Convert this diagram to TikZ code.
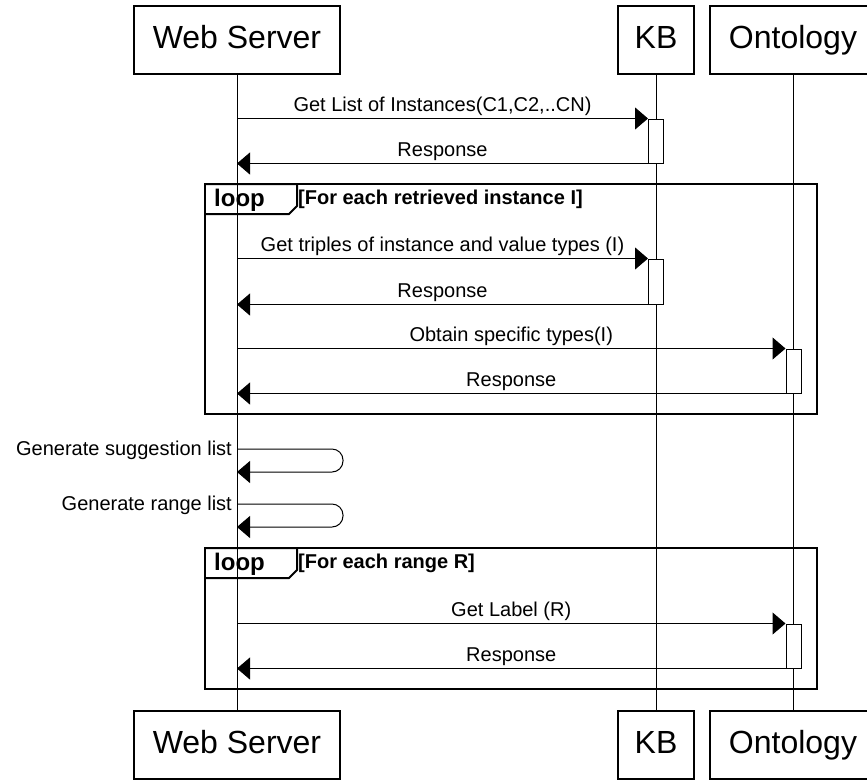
\documentclass[tikz,border=0pt]{standalone}
\usepackage{fontspec}
\setmainfont{Liberation Sans}
\usetikzlibrary{arrows.meta}

\begin{document}
\begin{tikzpicture}[x=1pt, y=-1pt,
        actor/.style={draw, line width=1.2pt, fill=white, minimum height=68pt,
            text height=23pt, text depth=6pt, font=\fontsize{32}{38}\selectfont},
        lifeline/.style={line width=1pt},
        actbar/.style={draw, line width=1pt, fill=white, minimum width=15pt, inner sep=0pt},
        msg/.style={line width=1pt, -{Triangle[length=13pt, width=22pt]}},
        txt/.style={font=\fontsize{20}{24}\selectfont, inner sep=2pt},
        loopbox/.style={draw, line width=2pt},
        looptag/.style={font=\bfseries\fontsize{24}{28}\selectfont, inner sep=0pt},
        guardtxt/.style={font=\bfseries\fontsize{20}{24}\selectfont, inner sep=0pt}]

            \useasboundingbox (0,0) rectangle (867,780);
            \clip (0,0) rectangle (867,780);

            \node[actor, minimum width=206pt] (ws) at (237, 40) {Web Server};
            \node[actor, minimum width=76pt] (kb) at (656, 40) {KB};
            \node[actor, minimum width=166pt] (on) at (793, 40) {Ontology};

            \node[actor, minimum width=206pt] (ws-b) at (237, 745) {Web Server};
            \node[actor, minimum width=76pt] (kb-b) at (656, 745) {KB};
            \node[actor, minimum width=166pt] (on-b) at (793, 745) {Ontology};

            \foreach \a in {ws,kb,on}{
                \draw[lifeline] (\a.south) to (\a-b.north);
            }

            \foreach \top/\bot/\guard in {184/414/{[For each retrieved instance I]},
                                          548/689/{[For each range R]}}{
                \draw[loopbox] (205, \top) rectangle (817, \bot);
                \draw[loopbox] (205, \top) -- (297, \top) -- (297, \top+22)
                               -- (289, \top+30) -- (205, \top+30);
                \node[looptag, anchor=base west] (loop\top) at (214, \top+22) {loop};
                \node[guardtxt, anchor=base west] (guard\top) at (298, \top+20) {\guard};
            }

            \node[actbar, minimum height=44pt] (k1) at (656, 141) {};
            \node[actbar, minimum height=45pt] (k2) at (656, 281.5) {};
            \node[actbar, minimum height=44pt] (o1) at (793.5, 371) {};
            \node[actbar, minimum height=44pt] (o2) at (793.5, 646) {};

            \draw[msg] (ws |- k1.north) to node[txt, above] (m1) {Get List of Instances(C1,C2,..CN)} (k1.north west);
            \draw[msg] (k1.south west) to node[txt, above] (r1) {Response} (ws |- k1.south);

            \draw[msg] (ws |- k2.north) to node[txt, above] (m2) {Get triples of instance and value types (I)} (k2.north west);
            \draw[msg] (k2.south west) to node[txt, above] (r2) {Response} (ws |- k2.south);

            \draw[msg] (ws |- o1.north) to node[txt, above] (m3) {Obtain specific types(I)} (o1.north west);
            \draw[msg] (o1.south west) to node[txt, above] (r3) {Response} (ws |- o1.south);

            \coordinate (self1) at (237, 449);
            \coordinate (self2) at (237, 504);
            \draw[msg, rounded corners=11pt] (self1) -- ++(106, 0) -- ++(0, 23) -- ++(-106, 0);
            \draw[msg, rounded corners=11pt] (self2) -- ++(106, 0) -- ++(0, 23) -- ++(-106, 0);
            \node[txt, anchor=base east] (self1lab) at (234, 455) {Generate suggestion list};
            \node[txt, anchor=base east] (self2lab) at (234, 510) {Generate range list};

            \draw[msg] (ws |- o2.north) to node[txt, above] (m4) {Get Label (R)} (o2.north west);
            \draw[msg] (o2.south west) to node[txt, above] (r4) {Response} (ws |- o2.south);
        \end{tikzpicture}
\end{document}
